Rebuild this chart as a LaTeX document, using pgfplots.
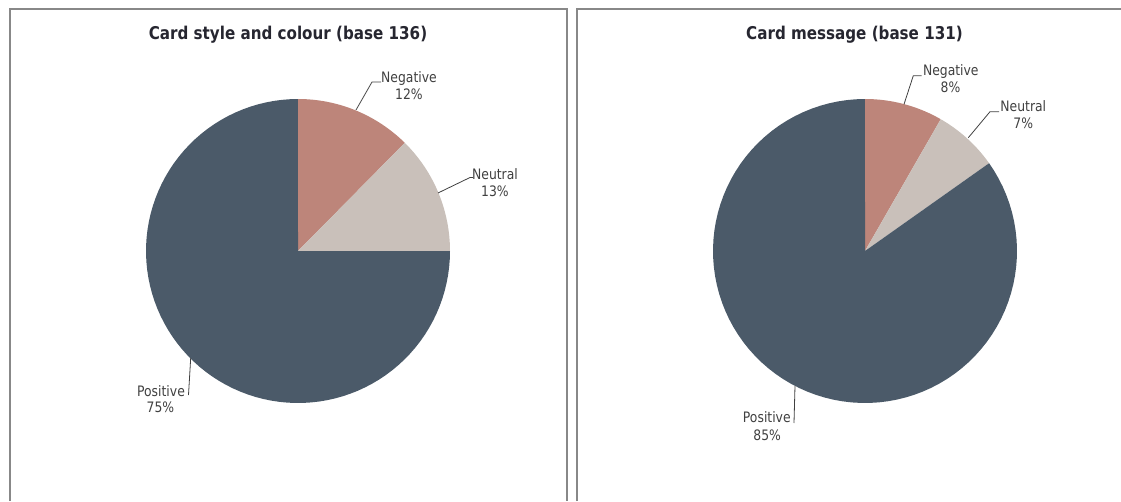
\documentclass[border=0pt]{standalone}
\usepackage{fontspec}
\setmainfont{DejaVu Sans}[FakeStretch=0.86]
\usepackage{pgfplots}
\pgfplotsset{compat=1.18}
\definecolor{pos}{HTML}{4B5A69}
\definecolor{neg}{HTML}{BD857A}
\definecolor{neu}{HTML}{C9C0BA}
\definecolor{framec}{HTML}{888888}
\definecolor{lbl}{HTML}{404040}
\definecolor{ttl}{HTML}{262630}
% shares (percent)
\def\LNeg{12.4}\def\LNeu{12.6}\def\LPos{75.0}
\def\RNeg{8.3}\def\RNeu{6.9}\def\RPos{84.8}
\pgfmathsetmacro\LA{90-3.6*\LNeg}
\pgfmathsetmacro\LB{\LA-3.6*\LNeu}
\pgfmathsetmacro\LC{\LB-3.6*\LPos}
\pgfmathsetmacro\RA{90-3.6*\RNeg}
\pgfmathsetmacro\RB{\RA-3.6*\RNeu}
\pgfmathsetmacro\RC{\RB-3.6*\RPos}
\newcommand{\pieslice}[5]{%
  \addplot[fill=#5, draw=none, domain=#3:#4, samples=90, variable=\t]
    ({#1+152*cos(\t)},{#2+152*sin(\t)}) -- (#1,#2) -- cycle;}
\tikzset{lab/.style={anchor=base, inner sep=0pt, text=lbl, font=\fontsize{10.8pt}{12pt}\selectfont},
         ttlst/.style={anchor=base, inner sep=0pt, text=ttl, font=\bfseries\fontsize{13.2pt}{15pt}\selectfont}}
\begin{document}
\begin{tikzpicture}
\begin{axis}[name=ax, scale only axis, width=840.75pt, height=375.75pt,
  xmin=0, xmax=1121, ymin=-501, ymax=0, hide axis, clip=true]
% frames
\draw[framec, line width=1.5pt] (9.5,-501) |- (566.5,-9.5) -- (566.5,-501);
\draw[framec, line width=1.5pt] (576.5,-501) |- (1121,-9.5);
% left pie
\pieslice{298}{-251}{90}{\LA}{neg}
\pieslice{298}{-251}{\LA}{\LB}{neu}
\pieslice{298}{-251}{\LB}{\LC}{pos}
% right pie
\pieslice{865}{-251}{90}{\RA}{neg}
\pieslice{865}{-251}{\RA}{\RB}{neu}
\pieslice{865}{-251}{\RB}{\RC}{pos}
% titles
\node[ttlst] at (288,-40) {Card style and colour (base 136)};
\node[ttlst] at (854.5,-40) {Card message (base 131)};
% leader lines
\draw[lbl, line width=0.6pt] (356,-110) -- (372,-82) -- (381,-82);
\draw[lbl, line width=0.6pt] (438,-193) -- (470,-177.5) -- (473,-177.5);
\draw[lbl, line width=0.6pt] (190.7,-358) -- (188.5,-395);
\draw[lbl, line width=0.6pt] (904,-104.3) -- (913.3,-75.7) -- (921.7,-75.7);
\draw[lbl, line width=0.6pt] (968.3,-137.7) -- (990,-111.7) -- (999,-111.7);
\draw[lbl, line width=0.6pt] (795,-386) -- (794,-423);
% labels
\node[lab] at (409,-82.7) {Negative};
\node[lab] at (409,-99) {12\%};
\node[lab] at (495,-179) {Neutral};
\node[lab] at (495,-196) {13\%};
\node[lab] at (161,-396.7) {Positive};
\node[lab] at (160.5,-412.5) {75\%};
\node[lab] at (950.8,-75.7) {Negative};
\node[lab] at (950.5,-92.3) {8\%};
\node[lab] at (1023.3,-111.7) {Neutral};
\node[lab] at (1023.3,-128.3) {7\%};
\node[lab] at (766.8,-422.7) {Positive};
\node[lab] at (767.2,-440) {85\%};
\end{axis}
\path (ax.south west) rectangle (ax.north east);
\end{tikzpicture}
\end{document}
